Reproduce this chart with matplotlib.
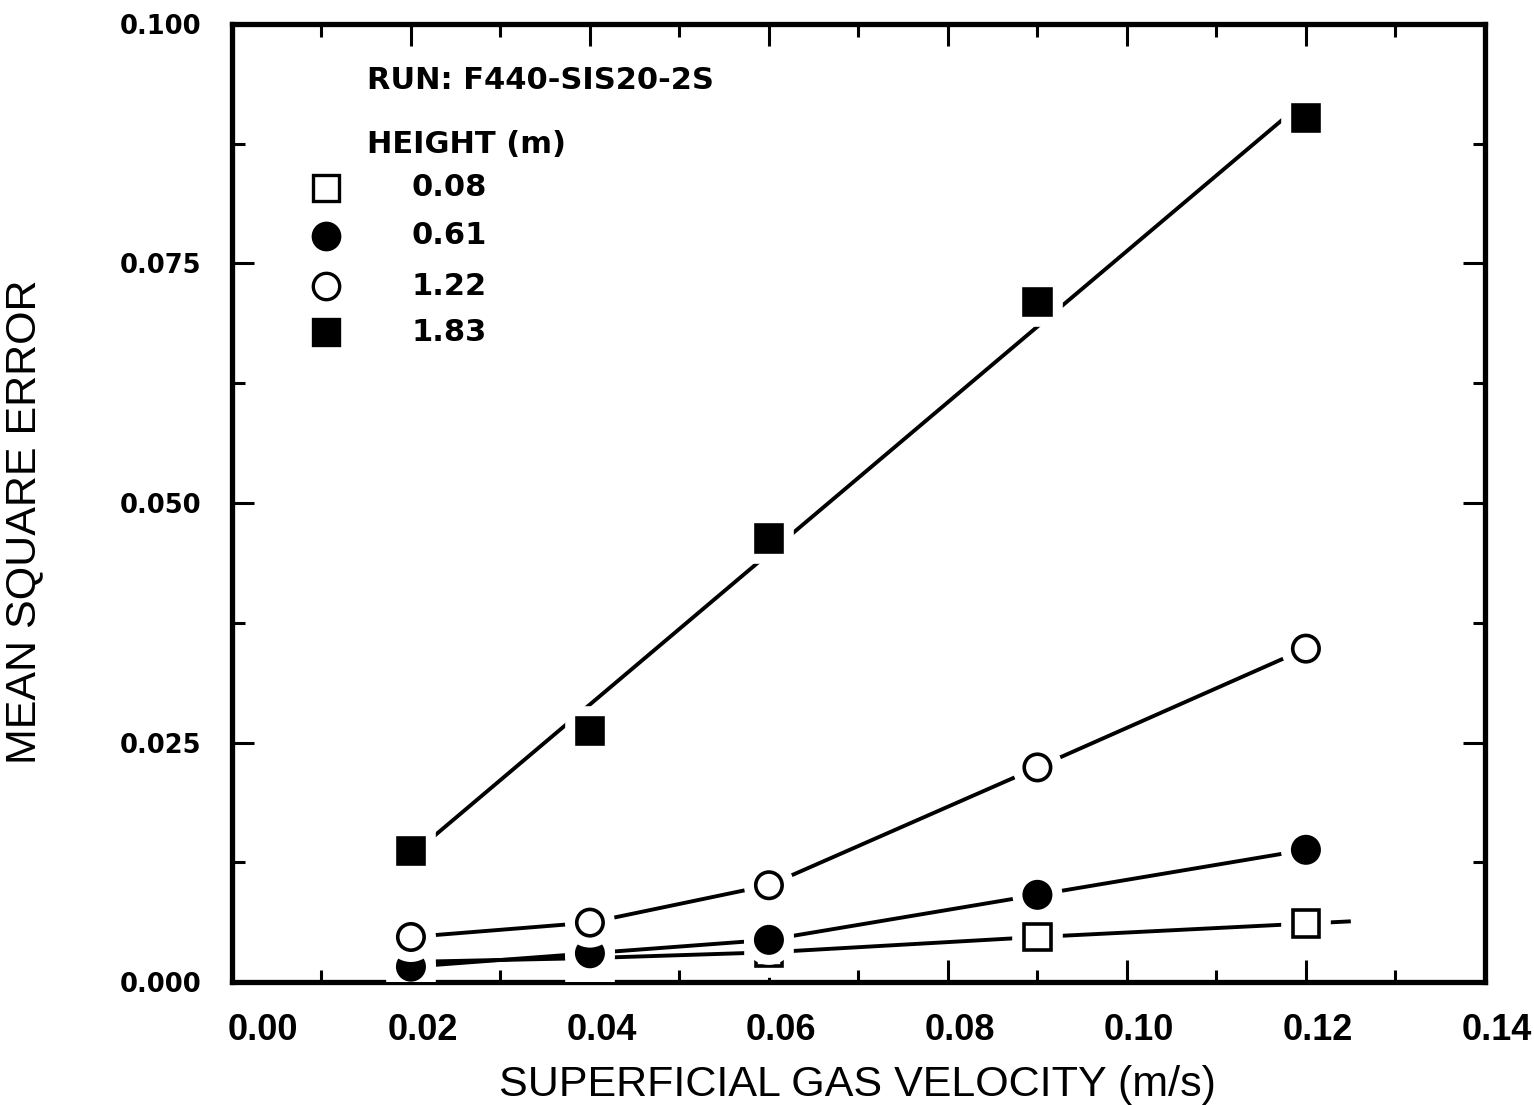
import numpy as np
import matplotlib
matplotlib.use("Agg")
import matplotlib.pyplot as plt
import matplotlib.patheffects as pe
from matplotlib.transforms import ScaledTranslation

# superficial gas velocity (m/s)
vel = [0.02, 0.04, 0.06, 0.09, 0.12]

# mean square error for each probe height
mse_008 = [0.0021, 0.0025, 0.0031, 0.0047, 0.0061]
mse_061 = [0.0016, 0.0030, 0.0044, 0.0091, 0.0138]
mse_122 = [0.0047, 0.0062, 0.0101, 0.0224, 0.0348]
mse_183 = [0.0137, 0.0262, 0.0463, 0.0710, 0.0902]

heights = ["0.08", "0.61", "1.22", "1.83"]
run_name = "RUN: F440-SIS20-2S"

xticks = [0.00, 0.02, 0.04, 0.06, 0.08, 0.10, 0.12, 0.14]
yticks = [0.000, 0.025, 0.050, 0.075, 0.100]

arial = ["Liberation Sans", "DejaVu Sans"]
wide = ["DejaVu Sans"]

fig = plt.figure(figsize=(15.34, 11.05), dpi=100)
ax = fig.add_axes([0.1512, 0.1113, 0.8168, 0.867])

ms = 19
lw = 2.8
halo = [pe.Stroke(linewidth=17, foreground="white"), pe.Normal()]


def series(x, y, marker, filled):
    ax.plot(x, y, "-", color="black", lw=lw, zorder=2)
    ax.plot(x, y, linestyle="none", marker=marker, ms=ms,
            mfc="black" if filled else "white", mec="black", mew=2.6,
            path_effects=halo, zorder=3)


# 0.08 m line is carried a little past the last point
ext_x = 0.1248
ext_y = mse_008[-1] + (mse_008[-1] - mse_008[-2]) / (vel[-1] - vel[-2]) * (ext_x - vel[-1])
ax.plot(vel + [ext_x], mse_008 + [ext_y], "-", color="black", lw=lw, zorder=2)
ax.plot(vel, mse_008, linestyle="none", marker="s", ms=ms, mfc="white",
        mec="black", mew=2.6, path_effects=halo, zorder=3)

series(vel, mse_061, "o", True)
series(vel, mse_122, "o", False)

# top height gets a straight-line fit
k, b = np.polyfit(vel, mse_183, 1)
fx = np.array([vel[0], vel[-1]])
ax.plot(fx, k * fx + b, "-", color="black", lw=lw, zorder=2)
ax.plot(vel, mse_183, linestyle="none", marker="s", ms=ms, mfc="black",
        mec="black", mew=2.6, path_effects=halo, zorder=3)

ax.set_xlim(0, 0.14)
ax.set_ylim(0, 0.1)
ax.set_xticks(xticks)
ax.set_xticks(np.arange(0.01, 0.14, 0.02), minor=True)
ax.set_yticks(yticks)
ax.set_yticks(np.arange(0.0125, 0.1, 0.025), minor=True)
ax.set_xticklabels([f"{v:.2f}" for v in xticks], fontsize=26,
                   fontweight="bold", family=arial)
ax.set_yticklabels([f"{v:.3f}" for v in yticks], fontsize=18.5,
                   fontweight="bold", family=wide)
ax.tick_params(which="both", direction="in", top=True, right=True, width=2.2)
ax.tick_params(which="major", length=16)
ax.tick_params(which="minor", length=9)
ax.tick_params(axis="x", pad=22)
ax.tick_params(axis="y", pad=22)

for i, lab in enumerate(ax.get_xticklabels()):
    dx = 31 if i == 0 else 12
    lab.set_transform(lab.get_transform() + ScaledTranslation(dx / 100, 0, fig.dpi_scale_trans))

for s in ax.spines.values():
    s.set_linewidth(3.8)

ax.set_xlabel("SUPERFICIAL GAS VELOCITY (m/s)", fontsize=31, family=arial)
ax.set_ylabel("MEAN SQUARE ERROR", fontsize=31, family=arial)
ax.xaxis.set_label_coords(0.499, -0.087)
ax.yaxis.set_label_coords(-0.150, 0.48)

# legend block
ax.text(0.108, 0.9415, run_name, transform=ax.transAxes, fontsize=22,
        family=wide, fontweight="bold", va="center")
ax.text(0.108, 0.874, "HEIGHT (m)", transform=ax.transAxes, fontsize=22,
        family=wide, fontweight="bold", va="center")
rows = [0.829, 0.779, 0.7265, 0.678]
styles = [("s", False), ("o", True), ("o", False), ("s", True)]
for y, h, (m, f) in zip(rows, heights, styles):
    ax.plot([0.075], [y], transform=ax.transAxes, marker=m, ms=19,
            mfc="black" if f else "white", mec="black", mew=2.4, clip_on=False)
    ax.text(0.1437, y, h, transform=ax.transAxes, fontsize=22, family=wide,
            fontweight="bold", va="center")

fig.savefig("out.png", dpi=100)
